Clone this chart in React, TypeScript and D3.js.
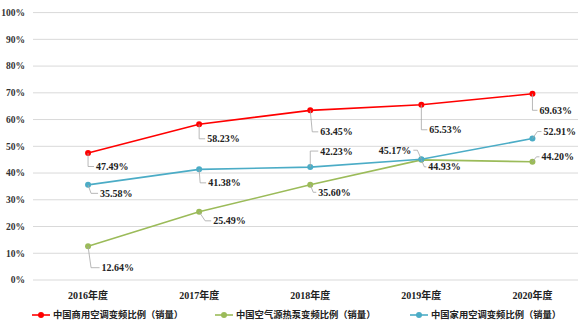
import React from "react";
import * as d3 from "d3";

const categories = ["2016年度", "2017年度", "2018年度", "2019年度", "2020年度"];
const yTicks = [0, 10, 20, 30, 40, 50, 60, 70, 80, 90, 100];
const seriesNames = ["中国商用空调变频比例（销量）", "中国空气源热泵变频比例（销量）", "中国家用空调变频比例（销量）"];
const commercialAC = [47.49, 58.23, 63.45, 65.53, 69.63];
const heatPump = [12.64, 25.49, 35.6, 44.93, 44.2];
const householdAC = [35.58, 41.38, 42.23, 45.17, 52.91];

const colors = ["#ff0000", "#9bbb59", "#4bacc6"];

// label layout: [dx, dy, kx, anchor]
type Lab = [number, number, number, string];
const labelLayout: Lab[][] = [
  [[8, 13.5, 0, "start"], [8, 14.5, 0, "start"], [10, 21.5, 2, "start"], [8, 25, 0, "start"], [7, 16.5, 0, "start"]],
  [[13.5, 21.5, 3, "start"], [14, 9, 6, "start"], [8, 7.5, 3, "start"], [7, 7, 3, "start"], [9, -5, 4, "start"]],
  [[12, 8.5, 3, "start"], [9, 13.5, 1, "start"], [10, -16, 0, "start"], [-10, -9, -4, "end"], [11, -7, 5, "start"]],
];
const legendX = [32, 215, 410];

const serif = "'Liberation Serif', 'Times New Roman', 'DejaVu Serif', 'Noto Sans CJK SC', serif";
const cjk = "'Noto Sans CJK SC', 'Liberation Serif', sans-serif";

export default function App() {
  const W = 578, H = 323;
  const x = d3.scalePoint<string>().domain(categories).range([32.5, 588]).padding(0.5);
  const y = d3.scaleLinear().domain([0, 100]).range([280, 12.6]);
  const allSeries = [commercialAC, heatPump, householdAC];
  const line = d3
    .line<number>()
    .x((_, i) => x(categories[i]) as number)
    .y((d) => y(d));

  const serifStyle = { fontFamily: serif, fontWeight: 700 } as React.CSSProperties;

  return (
    <svg width={W} height={H} style={{ position: "absolute", left: 0, top: 0, background: "#fff" }}>
      <rect width={W} height={H} fill="#fff" />
      {yTicks.map((t) => (
        <g key={t}>
          <line x1={33} x2={588} y1={y(t)} y2={y(t)} stroke="#d9d9d9" strokeWidth={1} />
          <text x={25} y={y(t)} dy="0.35em" textAnchor="end" style={{ ...serifStyle, fontSize: 9.5 }} fill="#333">
            {t}%
          </text>
        </g>
      ))}
      {categories.map((c) => (
        <text key={c} x={x(c)} y={295} dy="0.35em" textAnchor="middle" style={{ ...serifStyle, fontSize: 10 }} fill="#222">
          {c}
        </text>
      ))}
      {allSeries.map((s, si) => (
        <g key={si}>
          <path d={line(s) || ""} fill="none" stroke={colors[si]} strokeWidth={1.6} />
          {s.map((v, i) => (
            <circle key={i} cx={x(categories[i])} cy={y(v)} r={3} fill={colors[si]} />
          ))}
        </g>
      ))}
      {allSeries.map((s, si) => (
        <g key={"l" + si}>
          {s.map((v, i) => {
            const px = x(categories[i]) as number;
            const py = y(v);
            const [dx, dy, kx, anchor] = labelLayout[si][i];
            const lx = px + dx;
            const ly = py + dy;
            const endX = anchor === "end" ? lx + 2 : lx - 2;
            return (
              <g key={i}>
                <polyline
                  points={`${px},${py} ${px + kx},${ly} ${endX},${ly}`}
                  fill="none"
                  stroke="#a6a6a6"
                  strokeWidth={0.8}
                />
                <text x={lx} y={ly} dy="0.35em" textAnchor={anchor} style={{ ...serifStyle, fontSize: 10 }} fill="#222">
                  {v.toFixed(2)}%
                </text>
              </g>
            );
          })}
        </g>
      ))}
      {seriesNames.map((n, i) => (
        <g key={n}>
          <line x1={legendX[i]} x2={legendX[i] + 18} y1={315} y2={315} stroke={colors[i]} strokeWidth={1.6} />
          <circle cx={legendX[i] + 9} cy={315} r={3} fill={colors[i]} />
          <text x={legendX[i] + 21} y={315} dy="0.35em" style={{ fontFamily: cjk, fontWeight: 600, fontSize: 9.3 }} fill="#222">
            {n}
          </text>
        </g>
      ))}
    </svg>
  );
}
